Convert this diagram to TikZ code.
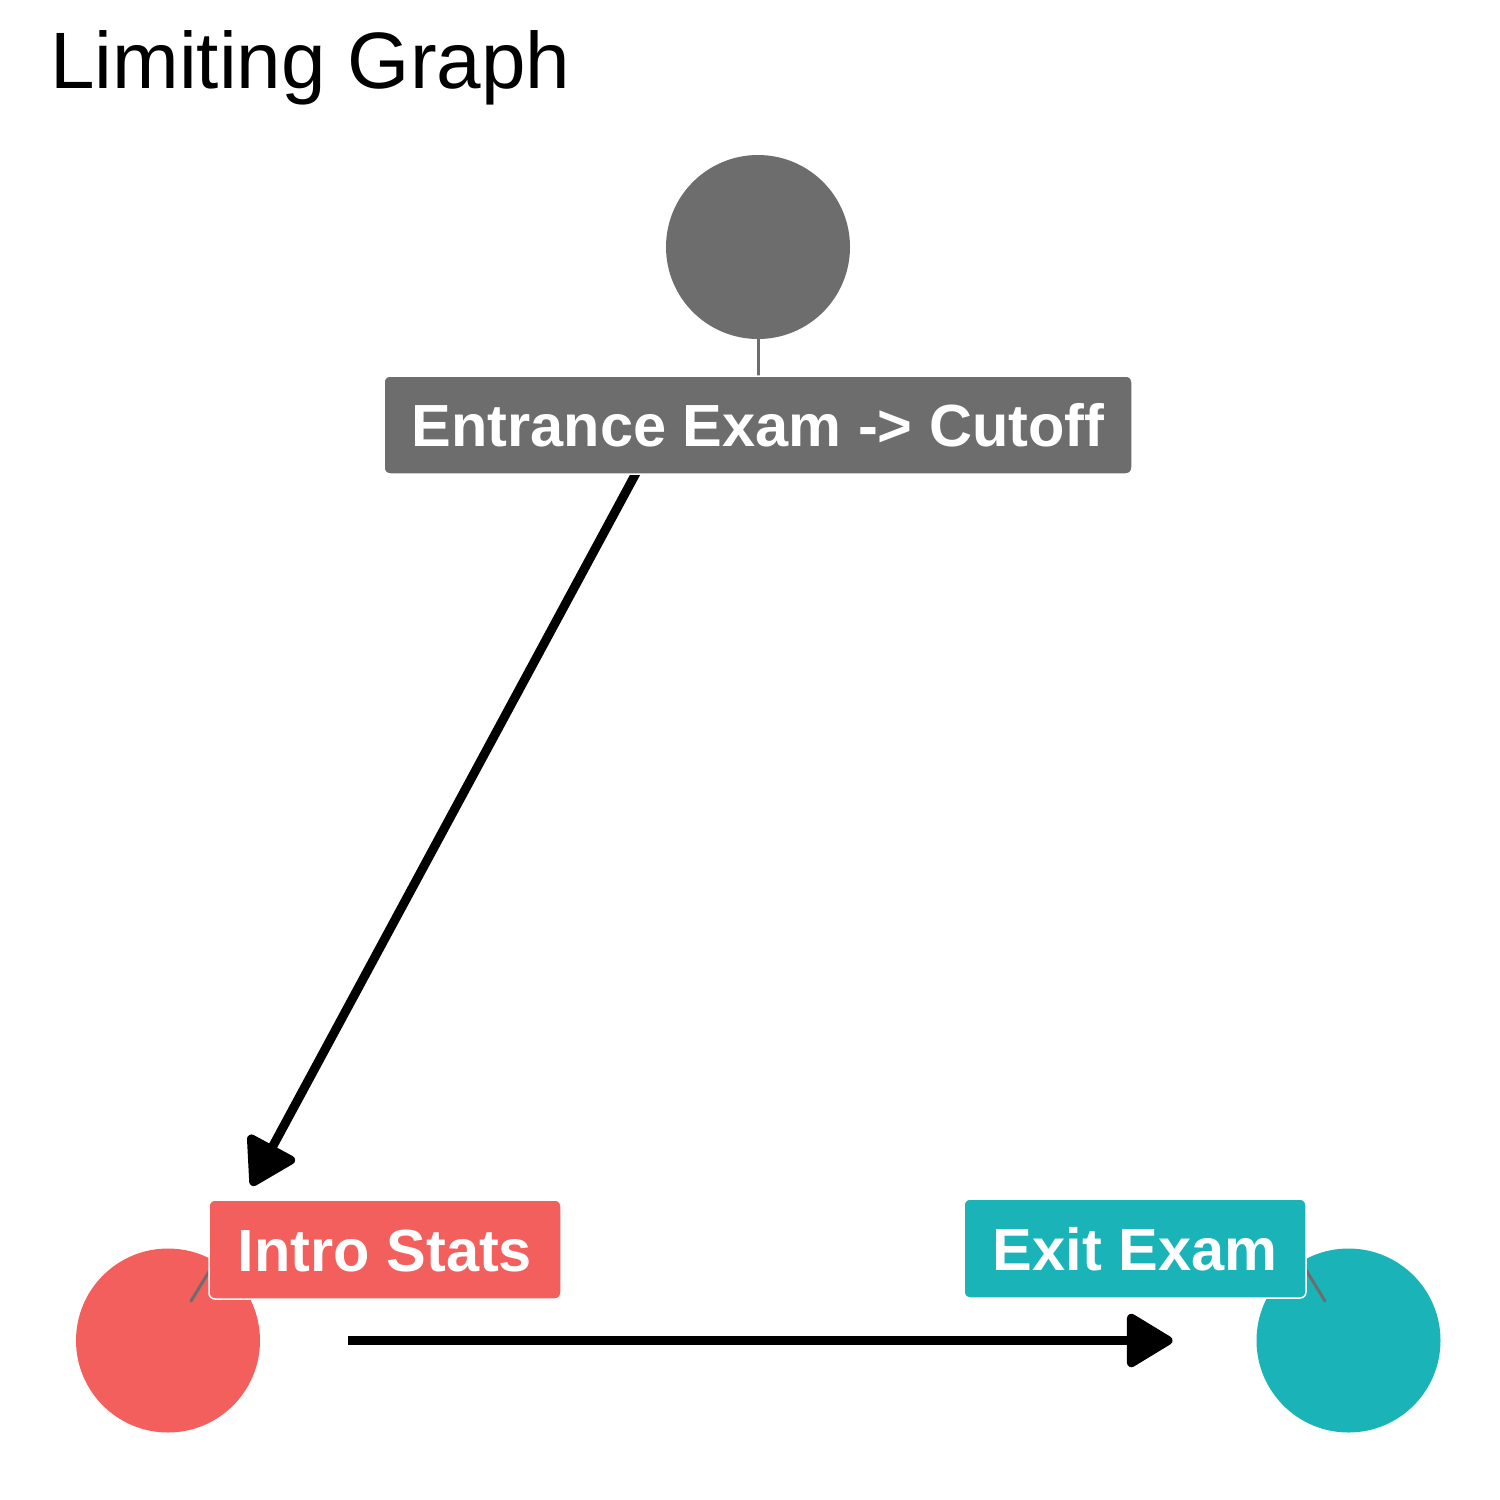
\documentclass[tikz,border=0pt]{standalone}
\usepackage{fontspec}
\setmainfont{Liberation Sans}
\usetikzlibrary{arrows.meta}
\definecolor{cgray}{HTML}{6D6D6D}
\definecolor{cred}{HTML}{F35F5C}
\definecolor{cteal}{HTML}{1AB4B8}
\tikzset{
  dot/.style={circle, minimum size=184pt, inner sep=0pt, draw=none},
  lab/.style={rounded corners=6pt, draw=white, line width=1.5pt, text=white, inner sep=0pt,
    font=\fontsize{59.5}{59.5}\selectfont\bfseries, text height=43pt, text depth=0pt, align=center},
  edge/.style={line width=9pt, draw=black, -{Triangle[length=50pt,width=58pt,round]}},
  seg/.style={line width=3pt, draw=cgray, line cap=round}
}
\begin{document}
\begin{tikzpicture}[x=1pt,y=-1pt]
\useasboundingbox (0,0) rectangle (1500,1500);
\fill[white] (0,0) rectangle (1500,1500);
\node[anchor=base west, inner sep=0pt, font=\fontsize{80}{80}\selectfont] (title) at (50,88) {Limiting Graph};
% circles
\node[dot, fill=cgray] (g) at (758,247) {};
\node[dot, fill=cred] (r) at (168,1340.5) {};
\node[dot, fill=cteal] (t) at (1348.5,1340.5) {};
% edges
\draw[edge, shorten <=180pt, shorten >=176pt] (g.center) -- (r.center);
\draw[edge, shorten <=180pt, shorten >=176pt] (r.center) -- (t.center);
% label leader segments
\coordinate (gs) at (758,339);
\coordinate (ge) at (758,376);
\coordinate (rs) at (191,1301);
\coordinate (re) at (210,1270);
\coordinate (ts) at (1325,1301);
\coordinate (te) at (1306,1270);
\draw[seg] (gs) -- (ge);
\draw[seg] (rs) -- (re);
\draw[seg] (ts) -- (te);
% labels
\node[lab, fill=cgray, minimum width=748pt, minimum height=98pt] (gl) at (758,425) {Entrance Exam -> Cutoff};
\node[lab, fill=cred, minimum width=352pt, minimum height=99pt] (rl) at (385,1249.5) {Intro Stats};
\node[lab, fill=cteal, minimum width=342pt, minimum height=99pt] (tl) at (1135,1248.5) {Exit Exam};
\end{tikzpicture}
\end{document}
